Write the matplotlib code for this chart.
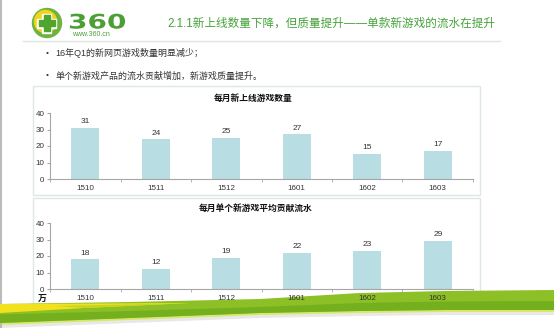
import matplotlib.pyplot as plt
from matplotlib.patches import Rectangle, Circle, Polygon, PathPatch
from matplotlib.textpath import TextPath
from matplotlib.font_manager import FontProperties
from matplotlib.transforms import Affine2D
import numpy as np

plt.rcParams['font.family'] = ['Liberation Sans', 'Noto Sans CJK SC', 'DejaVu Sans']

# Data
months = ['1510', '1511', '1512', '1601', '1602', '1603']
new_games = [31, 24, 25, 27, 15, 17]
avg_revenue = [18, 12, 19, 22, 23, 29]

title = '2.1.1新上线数量下降，但质量提升——单款新游戏的流水在提升'
bullets = ['16年Q1的新网页游戏数量明显减少；', '单个新游戏产品的流水贡献增加，新游戏质量提升。']
chart1_title = '每月新上线游戏数量'
chart2_title = '每月单个新游戏平均贡献流水'

W, H = 554, 328
bar_color = '#B8DDE2'
axis_color = '#A6A6A6'
text_color = '#333333'

fig = plt.figure(figsize=(W / 100, H / 100), dpi=100)

# Background layer in pixel coordinates
bg = fig.add_axes([0, 0, 1, 1])
bg.set_xlim(0, W)
bg.set_ylim(H, 0)
bg.axis('off')

# slide border on the left
bg.plot([1, 1], [0, H], color='#BBBBBB', lw=1.5)

# logo
bg.add_patch(Circle((47, 23), 14.5, color='#6DB33F'))
bg.add_patch(Circle((45.5, 21.5), 11, color='#F2D41A'))
bg.add_patch(Rectangle((42, 13.5), 9, 19, color='white'))
bg.add_patch(Rectangle((37, 18.5), 19, 9, color='white'))
bg.add_patch(Rectangle((43.5, 15), 6, 16, color='#4FA52E'))
bg.add_patch(Rectangle((38.5, 20), 16, 6, color='#4FA52E'))
logo_path = TextPath((0, 0), '360', size=20,
                     prop=FontProperties(family='DejaVu Sans', weight='bold'))
logo_tr = Affine2D().scale(1.4, -1.0).translate(68, 28.5) + bg.transData
bg.add_patch(PathPatch(logo_path, color='#4C9F35', lw=0, transform=logo_tr))
bg.text(72, 34, 'www.360.cn', fontsize=5, color='#4C9F35', va='center', ha='left')

# header title and rule
bg.text(167, 24, title, fontsize=8.35, color='#45A23A', va='center', ha='left')
bg.plot([23, 500], [41, 41], color='#DCE6DF', lw=1)

# bullets
for i, b in enumerate(bullets):
    y = 53 + i * 23
    bg.text(46, y, '•', fontsize=6, color=text_color, va='center', ha='left')
    bg.text(55, y, b, fontsize=6.45, color=text_color, va='center', ha='left')

# chart boxes
bg.add_patch(Rectangle((33, 86), 447, 109, fill=False, ec='#DDE7E3', lw=1))
bg.add_patch(Rectangle((33, 198), 447, 106, fill=False, ec='#DDE7E3', lw=1))

# green swoosh at bottom
xs = np.array([0, 130, 260, 360, 445, 554])
top = np.array([304, 302, 299, 293, 291, 290])
bot = np.array([323, 318, 313, 311, 310, 310])
bg.fill_between(xs, bot, bot + 5, color='#E8E8E8', lw=0, zorder=1)
bg.fill_between(xs, bot, bot + 2, color='#D9E86A', lw=0, zorder=1)
bg.fill_between(xs, top, bot, color='#8CC026', lw=0, zorder=2)
bg.fill_between(xs, (top + bot) / 2 + 1, bot, color='#74AF1E', lw=0, zorder=2)
bg.add_patch(Polygon([(0, 304), (0, 313), (85, 308), (190, 303)],
                     closed=True, color='#F2E21E', lw=0, zorder=3))
bg.add_patch(Polygon([(55, 306), (190, 303), (85, 308)],
                     closed=True, color='#C5D424', lw=0, zorder=3))


def draw_chart(rect, values, ttl, title_x, title_y):
    ax = fig.add_axes(rect)
    ax.set_facecolor('none')
    x = np.arange(len(months))
    bars = ax.bar(x, values, width=0.4, color=bar_color, zorder=2)
    ax.bar_label(bars, padding=2, fontsize=6, color=text_color)
    ax.set_xlim(-0.5, len(months) - 0.5)
    ax.set_ylim(0, 40)
    ax.set_yticks([0, 10, 20, 30, 40])
    ax.set_xticks(x)
    ax.set_xticklabels(months)
    ax.set_xticks(np.arange(-0.5, len(months)), minor=True)
    ax.tick_params(axis='x', which='major', length=0, pad=4, labelsize=5.8,
                   labelcolor=text_color)
    ax.tick_params(axis='x', which='minor', length=2, color=axis_color)
    ax.tick_params(axis='y', length=2, pad=2, labelsize=5.8, color=axis_color,
                   labelcolor=text_color)
    for s in ['top', 'right']:
        ax.spines[s].set_visible(False)
    for s in ['left', 'bottom']:
        ax.spines[s].set_color(axis_color)
        ax.spines[s].set_linewidth(0.8)
    bg.text(title_x, title_y, ttl, fontsize=6.3, fontweight='bold', color='#111111',
            ha='center', va='center')
    return ax


ax1 = draw_chart([50 / W, 1 - 179 / H, 423 / W, 66 / H], new_games, chart1_title, 253, 98)
ax2 = draw_chart([50 / W, 1 - 289 / H, 423 / W, 66 / H], avg_revenue, chart2_title, 256, 208)
bg.text(42, 298, '万', fontsize=6.4, fontweight='bold', color='#111111',
        ha='center', va='center')

fig.savefig('out.png', dpi=100)
